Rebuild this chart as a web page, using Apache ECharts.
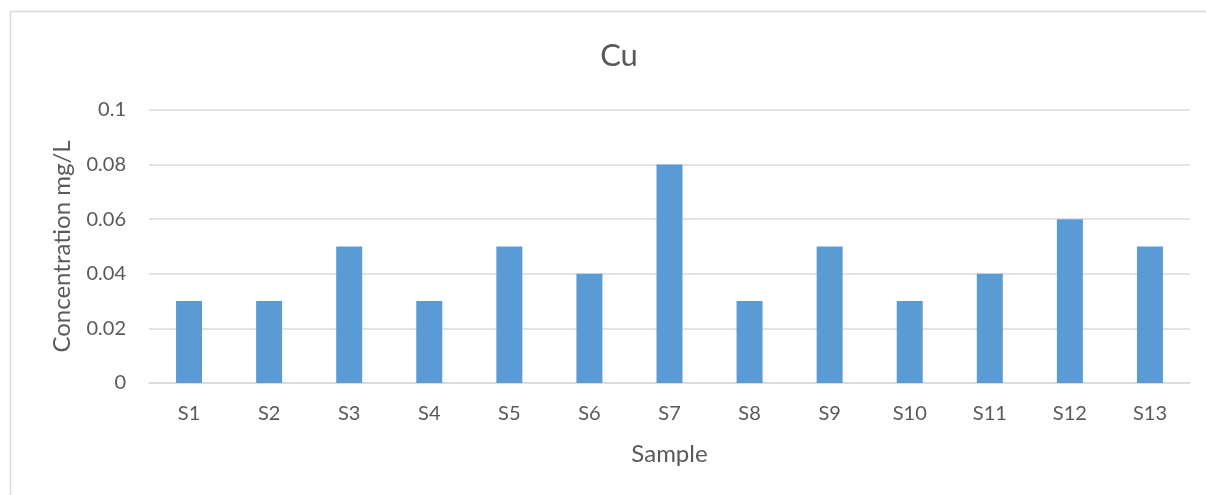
<!DOCTYPE html>
<html><head><meta charset="utf-8">
<script src="https://cdn.jsdelivr.net/npm/echarts@6/dist/echarts.min.js"></script>
<style>html,body{margin:0;padding:0;background:#fff}#c{width:1206px;height:495px}</style>
</head><body><div id="c"></div>
<script>
const categories = ['S1','S2','S3','S4','S5','S6','S7','S8','S9','S10','S11','S12','S13'];
const values = [0.03,0.03,0.05,0.03,0.05,0.04,0.08,0.03,0.05,0.03,0.04,0.06,0.05];
const chart = echarts.init(document.getElementById('c'));
const font = 'Lato, "Open Sans", sans-serif';
chart.setOption({
  animation:false,
  textStyle:{fontFamily:font},
  graphic:[{type:'rect',shape:{x:10.5,y:11.5,width:1200,height:500},style:{fill:'none',stroke:'#d9d9d9',lineWidth:1.5},silent:true}],
  title:{text:'Cu',left:614,textAlign:'center',top:35,textStyle:{fontFamily:font,fontSize:31,fontWeight:'normal',color:'#595959'}},
  grid:{left:149,right:16,top:110,bottom:112},
  xAxis:{type:'category',data:categories,
    axisLine:{lineStyle:{color:'#d9d9d9',width:1.5}},axisTick:{show:false},
    axisLabel:{color:'#595959',fontSize:20,margin:21,fontFamily:font},
    name:'Sample',nameLocation:'middle',nameGap:59,nameTextStyle:{color:'#595959',fontSize:24,fontFamily:font}},
  yAxis:{type:'value',min:0,max:0.1,interval:0.02,
    axisLine:{show:false},axisTick:{show:false},
    splitLine:{lineStyle:{color:'#d9d9d9',width:1.5}},
    axisLabel:{color:'#595959',fontSize:20,margin:23,fontFamily:font,formatter:v=>String(+v.toFixed(2))},
    name:'Concentration mg/L',nameLocation:'middle',nameGap:75,nameTextStyle:{color:'#595959',fontSize:24,fontFamily:font}},
  series:[{type:'bar',data:values,barWidth:26,itemStyle:{color:'#5b9bd5'}}]
});
</script></body></html>
